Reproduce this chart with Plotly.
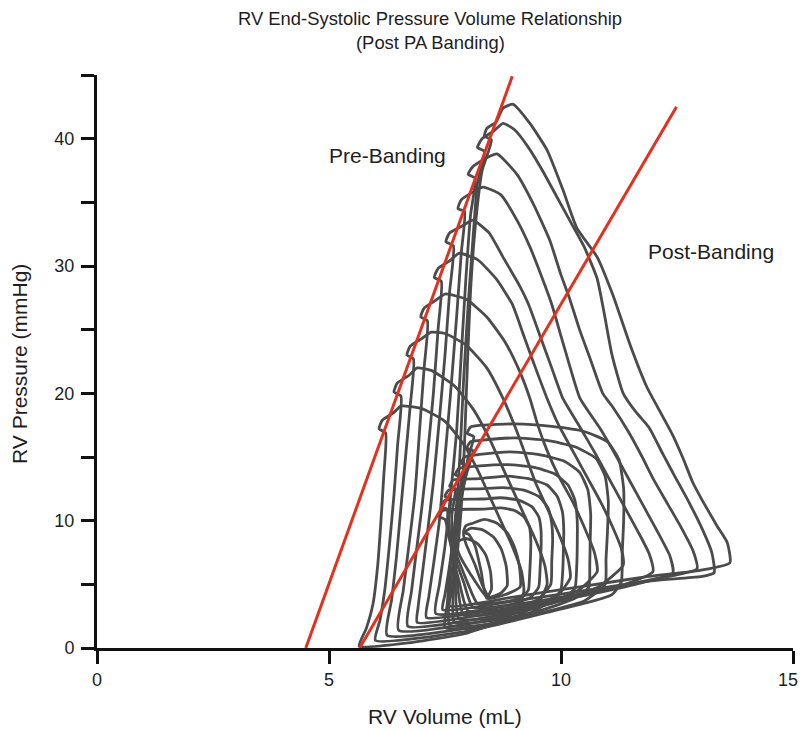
import plotly.graph_objects as go

# ---------------- data (RV volume mL, RV pressure mmHg) ----------------
PRE_ESPVR = [(4.5, 0.0), (8.95, 44.9)]
POST_ESPVR = [(5.66, 0.0), (12.49, 42.5)]

TALL_A = [(7.6,3.3),(8.97,4.0),(10.4,4.8),(11.85,5.6),(13.0,6.1),(13.64,6.7),(13.58,8.3),(13.36,9.6),(13.06,11.5),(12.84,13.0),(12.63,14.9),(12.41,16.7),(12.13,18.6),(11.85,20.5),(11.49,23.8),(11.12,27.7),(10.78,30.7),(10.34,33.0),(10.04,36.0),(9.7,39.1),(9.33,41.2),(8.97,42.7),(8.75,42.4),(8.6,41.3),(8.4,40.8),(8.35,40.2),(8.5,39.9),(8.3,37.5),(8.15,33),(8.05,28),(7.98,22),(7.92,16),(7.85,11),(7.75,7),(7.65,4.5),(7.6,3.3)]
TALL_B = [(7.45,3.0),(9.0,3.7),(10.5,4.5),(12.0,5.3),(13.0,5.6),(13.3,5.9),(13.25,7.5),(13.05,9.3),(12.75,11.5),(12.45,13.5),(12.2,15.2),(11.9,17.3),(11.6,18.6),(11.34,20.0),(11.1,23.0),(10.92,26.5),(10.78,29.0),(10.5,31.5),(10.2,33.5),(9.9,35.5),(9.6,37.5),(9.3,39.3),(9.0,40.7),(8.75,41.2),(8.55,40.6),(8.3,40.0),(8.2,39.3),(8.35,39.0),(8.2,36.5),(8.1,32),(8.0,27),(7.9,21),(7.82,15),(7.72,10),(7.6,6.5),(7.5,4.2),(7.45,3.0)]
TALL_C = [(7.3,2.7),(9.0,3.4),(10.5,4.3),(12.0,5.4),(12.93,6.2),(12.85,7.6),(12.6,9.4),(12.3,11.3),(12.0,13.2),(11.75,15.0),(11.45,17.0),(11.1,19.0),(10.9,20.0),(10.65,22.5),(10.4,25.0),(10.18,27.5),(10.0,29.3),(9.76,32.0),(9.4,34.9),(9.05,37.2),(8.62,38.8),(8.4,38.5),(8.1,37.8),(8.0,37.2),(8.15,36.9),(8.05,34),(7.95,29),(7.85,23),(7.75,17),(7.62,12),(7.5,8),(7.38,5),(7.3,2.7)]
TALL_D = [(7.1,2.4),(8.8,3.1),(10.3,4.0),(11.6,5.0),(12.41,5.9),(12.35,7.2),(12.1,9.0),(11.8,11.0),(11.5,13.0),(11.2,15.0),(10.85,17.2),(10.41,19.6),(10.2,22.0),(10.0,24.5),(9.8,27.0),(9.6,29.0),(9.33,31.5),(9.05,33.6),(8.7,35.6),(8.32,36.2),(8.1,35.8),(7.85,35.2),(7.78,34.5),(7.92,34.3),(7.85,31),(7.75,26),(7.62,20),(7.5,15),(7.38,10),(7.25,6.5),(7.15,4),(7.1,2.4)]
TALL_E = [(6.9,2.0),(8.6,2.8),(10.0,3.7),(11.3,4.9),(11.98,6.0),(11.9,7.4),(11.65,9.2),(11.35,11.2),(11.05,13.2),(10.75,15.2),(10.4,17.4),(10.04,19.6),(9.8,22.0),(9.55,24.5),(9.3,27.0),(9.1,28.5),(8.75,30.7),(8.45,32.6),(8.1,33.6),(7.9,33.2),(7.6,32.6),(7.52,31.9),(7.68,31.6),(7.6,28),(7.5,23),(7.38,18),(7.25,13),(7.12,9),(7.0,5.5),(6.92,3.2),(6.9,2.0)]
TALL_F = [(6.7,1.7),(8.4,2.4),(9.7,3.4),(10.8,4.8),(11.34,6.5),(11.3,7.8),(11.1,9.6),(10.85,11.5),(10.55,13.5),(10.25,15.5),(9.95,17.5),(9.7,19.6),(9.45,22.0),(9.2,24.5),(8.95,27.0),(8.6,29.0),(8.2,30.5),(7.8,31.0),(7.6,30.4),(7.35,29.8),(7.27,29.1),(7.42,28.8),(7.35,25),(7.25,20),(7.12,15),(7.0,11),(6.88,7.5),(6.78,4.5),(6.7,1.7)]
TALL_G = [(6.5,1.4),(8.3,2.1),(9.5,3.2),(10.4,4.6),(10.78,6.0),(10.72,7.5),(10.5,9.5),(10.25,11.5),(9.95,13.5),(9.7,15.5),(9.5,17.5),(9.33,19.6),(9.1,21.8),(8.8,24.0),(8.4,26.0),(7.95,27.4),(7.5,27.8),(7.3,27.3),(7.05,26.7),(6.98,26.0),(7.12,25.7),(7.05,22),(6.95,17),(6.85,12),(6.72,8),(6.6,4.5),(6.5,1.4)]
TALL_H = [(6.25,1.0),(8.2,1.7),(9.3,2.7),(9.9,4.0),(10.2,5.5),(10.15,7.0),(9.95,9.0),(9.7,11.0),(9.45,13.0),(9.25,15.0),(9.05,17.0),(8.75,19.6),(8.4,22.0),(7.95,23.8),(7.5,24.7),(7.2,24.8),(7.0,24.3),(6.75,23.7),(6.68,23.0),(6.82,22.7),(6.75,19),(6.65,15),(6.55,11),(6.45,7),(6.35,3.8),(6.25,1.0)]
TALL_I = [(6.0,0.6),(8.1,1.4),(9.0,2.4),(9.5,3.5),(9.7,5.0),(9.65,6.5),(9.45,8.5),(9.2,10.5),(8.95,12.5),(8.7,14.5),(8.45,16.5),(8.1,18.8),(7.7,20.6),(7.2,21.8),(6.9,22.0),(6.72,21.4),(6.47,20.8),(6.4,20.1),(6.55,19.8),(6.48,16),(6.4,12),(6.3,8),(6.2,4.5),(6.1,2.2),(6.0,0.6)]
TALL_J = [(5.65,0.15),(6.8,0.45),(7.9,1.1),(8.7,2.1),(9.1,3.2),(9.2,4.5),(9.15,6.0),(8.95,8.0),(8.7,10.0),(8.45,12.0),(8.2,14.0),(7.9,16.0),(7.5,17.8),(7.0,18.8),(6.55,19.0),(6.4,18.5),(6.15,17.9),(6.08,17.2),(6.22,16.9),(6.18,13.5),(6.12,10),(6.05,6.5),(5.95,3.5),(5.8,1.5),(5.65,0.15)]

SHORT_1 = [(7.5,1.6),(8.3,1.6),(9.7,2.8),(10.6,3.6),(11.1,4.2),(11.3,5.2),(11.32,7.5),(11.35,10.0),(11.35,12.5),(11.25,14.8),(11.0,16.2),(10.5,17.0),(9.8,17.4),(9.0,17.6),(8.3,17.5),(8.05,17.35),(7.98,16.85),(8.12,16.6),(8.0,15.0),(7.85,12.0),(7.7,9.0),(7.6,6.0),(7.55,3.5),(7.5,1.6)]
SHORT_2 = [(7.6,1.8),(8.5,1.9),(9.6,2.8),(10.5,3.7),(10.95,5.0),(10.97,7.0),(11.0,9.0),(11.02,11.5),(10.95,13.5),(10.75,14.9),(10.3,15.8),(9.7,16.3),(9.0,16.5),(8.25,16.3),(8.05,16.2),(7.97,15.7),(8.1,15.5),(7.95,13.5),(7.8,10.5),(7.7,7.5),(7.62,5.0),(7.6,1.8)]
SHORT_3 = [(7.7,2.0),(8.6,2.2),(9.6,3.0),(10.3,3.9),(10.6,4.8),(10.62,6.5),(10.63,8.5),(10.64,10.5),(10.58,12.4),(10.4,13.8),(10.05,14.7),(9.5,15.2),(8.9,15.4),(8.25,15.2),(7.92,15.0),(7.85,14.5),(7.98,14.3),(7.85,12.0),(7.75,9.0),(7.7,6.5),(7.68,4.5),(7.7,2.0)]
SHORT_4 = [(7.8,2.3),(8.7,2.5),(9.6,3.3),(10.1,4.0),(10.3,4.7),(10.34,6.5),(10.35,8.0),(10.35,10.0),(10.3,11.6),(10.15,12.8),(9.85,13.7),(9.4,14.2),(8.85,14.4),(8.25,14.3),(7.8,14.1),(7.72,13.6),(7.85,13.4),(7.75,11.0),(7.7,8.5),(7.72,6.0),(7.8,2.3)]
SHORT_5 = [(7.9,2.6),(8.8,2.8),(9.5,3.5),(9.9,4.1),(10.0,4.6),(10.04,6.2),(10.05,7.5),(10.06,9.2),(10.03,10.7),(9.92,11.9),(9.7,12.8),(9.3,13.3),(8.8,13.5),(8.25,13.3),(7.68,13.2),(7.6,12.7),(7.72,12.5),(7.65,10.5),(7.65,8.0),(7.75,5.5),(7.9,2.6)]
SHORT_6 = [(8.0,2.9),(8.9,3.1),(9.5,3.8),(9.78,5.0),(9.8,6.8),(9.82,8.4),(9.8,9.8),(9.72,11.0),(9.52,11.9),(9.2,12.4),(8.75,12.6),(8.25,12.5),(7.58,12.4),(7.5,11.9),(7.62,11.7),(7.58,10.0),(7.65,7.5),(7.8,5.3),(8.0,2.9)]
SHORT_7 = [(8.1,3.2),(8.9,3.4),(9.35,4.0),(9.52,4.8),(9.55,6.3),(9.57,7.8),(9.57,9.2),(9.52,10.3),(9.37,11.1),(9.1,11.6),(8.7,11.8),(8.3,11.7),(7.5,11.6),(7.42,11.1),(7.55,10.9),(7.55,9.3),(7.7,7.2),(7.9,5.2),(8.1,3.2)]
SHORT_8 = [(8.2,3.5),(8.9,3.7),(9.2,4.1),(9.3,4.6),(9.32,5.5),(9.34,7.0),(9.35,8.4),(9.32,9.5),(9.2,10.3),(9.0,10.8),(8.7,11.0),(8.32,10.9),(7.45,10.8),(7.38,10.3),(7.5,10.1),(7.6,8.6),(7.8,6.8),(8.0,5.0),(8.2,3.5)]
SHORT_9 = [(8.4,3.9),(8.8,4.2),(9.12,4.8),(9.1,6.5),(9.0,7.9),(8.85,9.0),(8.62,9.8),(8.35,10.1),(8.1,9.8),(7.95,9.6),(7.9,9.1),(8.02,8.9),(8.15,8.0),(8.28,6.0),(8.4,3.9)]
SHORT_10 = [(8.45,4.0),(8.7,4.3),(8.84,4.9),(8.82,6.4),(8.72,7.7),(8.55,8.7),(8.3,9.3),(8.05,9.4),(7.9,9.0),(7.95,8.2),(8.15,6.5),(8.3,5.0),(8.45,4.0)]
SHORT_11 = [(8.4,4.0),(8.5,4.6),(8.48,6.0),(8.38,7.3),(8.2,8.2),(7.95,8.6),(7.75,8.3),(7.8,7.4),(8.05,5.8),(8.4,4.0)]

LOOPS = [TALL_A, TALL_B, TALL_C, TALL_D, TALL_E, TALL_F, TALL_G, TALL_H, TALL_I, TALL_J,
         SHORT_1, SHORT_2, SHORT_3, SHORT_4, SHORT_5, SHORT_6, SHORT_7, SHORT_8,
         SHORT_9, SHORT_10, SHORT_11]

X_TICKS = [0, 5, 10, 15]
# the last label gets a trailing figure space so it is not cut at the window edge
X_LABELS = ["0", "5", "10", "15\u2007"]
Y_TICKS = [0, 5, 10, 15, 20, 25, 30, 35, 40, 45]
Y_LABELS = ["0", "", "10", "", "20", "", "30", "", "40", ""]

TITLE_1 = "RV End-Systolic Pressure Volume Relationship"
TITLE_2 = "(Post PA Banding)"
X_TITLE = "RV Volume (mL)"
Y_TITLE = "RV Pressure (mmHg)"
PRE_LABEL = ("Pre-Banding", 6.27, 38.7)
POST_LABEL = ("Post-Banding", 13.23, 31.1)

# ---------------- figure ----------------
FONT = "Liberation Sans, Arial, Helvetica, sans-serif"
LOOP_COLOR = "#4b4b4b"
RED = "#e2321f"
TEXT = "#1e1e1e"

fig = go.Figure()
for loop in LOOPS:
    fig.add_trace(go.Scatter(
        x=[p[0] for p in loop], y=[p[1] for p in loop],
        mode="lines", line=dict(color=LOOP_COLOR, width=2.8, shape="spline", smoothing=0.5),
        hoverinfo="skip", showlegend=False))

for seg in (PRE_ESPVR, POST_ESPVR):
    fig.add_trace(go.Scatter(
        x=[p[0] for p in seg], y=[p[1] for p in seg],
        mode="lines", line=dict(color=RED, width=3),
        hoverinfo="skip", showlegend=False))

# the page body has an 8px margin, so the figure is shifted by 8px
OFF = 8
W, H = 807 - OFF, 730 - OFF
L, R, T = 97 - OFF, 14, 75 - OFF
B = H - T - (648 - 75)
PW, PH = W - L - R, H - T - B

def px_to_paper(px, py):
    # px, py are screen pixel positions
    return (px - OFF - L) / PW, (H - B - (py - OFF)) / PH

annotations = []
for txt, py in ((TITLE_1, 18), (TITLE_2, 42)):
    ax_, ay_ = px_to_paper(430, py)
    annotations.append(dict(text=txt, x=ax_, y=ay_, xref="paper", yref="paper",
                            showarrow=False, xanchor="center", yanchor="middle",
                            font=dict(size=18.4, color=TEXT, family=FONT)))
ax_, ay_ = px_to_paper(445, 716)
annotations.append(dict(text=X_TITLE, x=ax_, y=ay_, xref="paper", yref="paper",
                        showarrow=False, xanchor="center", yanchor="middle",
                        font=dict(size=21, color=TEXT, family=FONT)))
ax_, ay_ = px_to_paper(19, 364)
annotations.append(dict(text=Y_TITLE, x=ax_, y=ay_, xref="paper", yref="paper",
                        showarrow=False, xanchor="center", yanchor="middle", textangle=-90,
                        font=dict(size=21, color=TEXT, family=FONT)))
for txt, xx, yy in (PRE_LABEL, POST_LABEL):
    annotations.append(dict(text=txt, x=xx, y=yy, xref="x", yref="y",
                            showarrow=False, xanchor="center", yanchor="middle",
                            font=dict(size=21, color=TEXT, family=FONT)))

axis_common = dict(showline=True, linewidth=3, linecolor="#111", ticks="outside",
                   ticklen=13, tickwidth=2.5, tickcolor="#111", showgrid=False,
                   zeroline=False, tickfont=dict(size=18, color=TEXT, family=FONT),
                   fixedrange=True, automargin=False, ticklabeloverflow="allow")

fig.update_layout(
    width=W, height=H,
    margin=dict(l=L, r=R, t=T, b=B, pad=0, autoexpand=False),
    paper_bgcolor="white", plot_bgcolor="white",
    font=dict(family=FONT),
    xaxis=dict(range=[0, 15], tickmode="array", tickvals=X_TICKS,
               ticktext=X_LABELS, **axis_common),
    yaxis=dict(range=[0, 45], tickmode="array", tickvals=Y_TICKS,
               ticktext=Y_LABELS, ticklabelstandoff=3, **axis_common),
    annotations=annotations,
)

fig.write_html("out.html")
